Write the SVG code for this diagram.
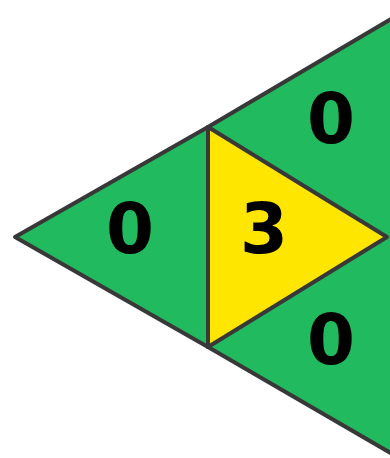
<svg xmlns="http://www.w3.org/2000/svg" width="390" height="458" viewBox="0 0 390 458">
<style>
.tri{stroke:#383838;stroke-width:4;stroke-linejoin:round}
.edge{stroke:#383838;stroke-width:4;fill:none;stroke-linecap:round}
.g{fill:#22ba5e}
.y{fill:#ffe600}
.lbl{font-family:"DejaVu Sans",sans-serif;font-weight:bold;font-size:69px;fill:#000;text-anchor:middle}
</style>
<rect width="390" height="458" fill="#fff"/>
<g id="left">
<polygon class="tri g" points="15,237 208,127 208,347"/>
<text class="lbl" x="130" y="253">0</text>
</g>
<g id="top">
<polygon class="g" points="208,127 420,2 420,237 387,237"/>
<path class="edge" d="M208,127 L420,2"/>
<text class="lbl" x="331" y="143">0</text>
</g>
<g id="bottom">
<polygon class="g" points="208,347 387,237 420,237 420,470"/>
<path class="edge" d="M208,347 L420,470"/>
<text class="lbl" x="331" y="364">0</text>
</g>
<g id="center">
<polygon class="tri y" points="208,127 387,237 208,347"/>
<text class="lbl" x="264" y="253">3</text>
</g>
</svg>
